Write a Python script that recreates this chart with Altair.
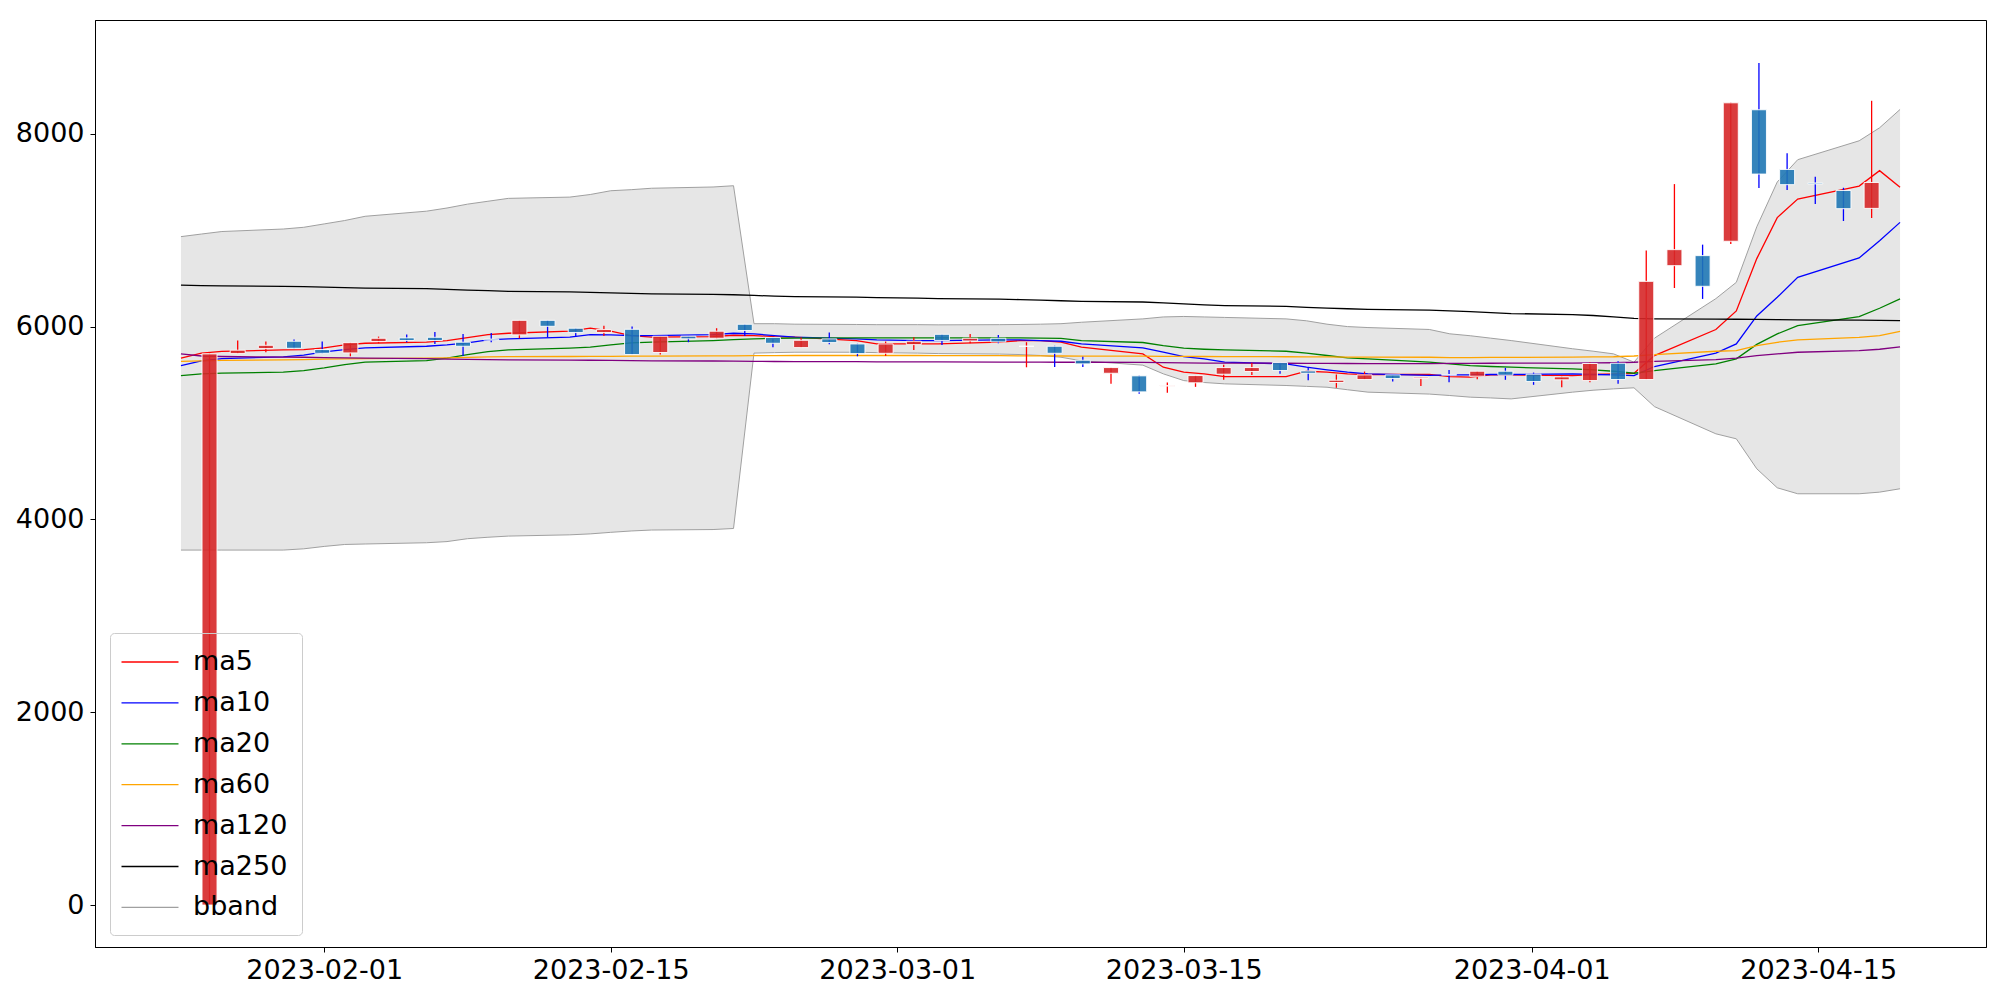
import altair as alt
import pandas as pd

dates = ["2023-01-25", "2023-01-26", "2023-01-27", "2023-01-30", "2023-01-31",
         "2023-02-01", "2023-02-02", "2023-02-03", "2023-02-06", "2023-02-07",
         "2023-02-08", "2023-02-09", "2023-02-10", "2023-02-13", "2023-02-14",
         "2023-02-15", "2023-02-16", "2023-02-17", "2023-02-20", "2023-02-21",
         "2023-02-22", "2023-02-23", "2023-02-24", "2023-02-27", "2023-02-28",
         "2023-03-02", "2023-03-03", "2023-03-06", "2023-03-07", "2023-03-08",
         "2023-03-09", "2023-03-10", "2023-03-13", "2023-03-14", "2023-03-15",
         "2023-03-16", "2023-03-17", "2023-03-20", "2023-03-21", "2023-03-22",
         "2023-03-23", "2023-03-24", "2023-03-27", "2023-03-28", "2023-03-29",
         "2023-03-30", "2023-03-31", "2023-04-03", "2023-04-04", "2023-04-05",
         "2023-04-06", "2023-04-07", "2023-04-10", "2023-04-11", "2023-04-12",
         "2023-04-13", "2023-04-14", "2023-04-17", "2023-04-18", "2023-04-19"]

opens = [0, 5720, 5772, 5848, 5762, 5727, 5845, 5883, 5889, 5838,
         5870, 5914, 6065, 5983, 5938, 5972, 5731, 5900, 5879, 6024,
         5886, 5782, 5872, 5820, 5723, 5813, 5920, 5851, 5879, 5796,
         5796, 5651, 5516, 5489, 5383, 5417, 5506, 5534, 5627, 5540,
         5420, 5451, 5499, 5461, 5502, 5485, 5537, 5506, 5448, 5440,
         5620, 5451, 6632, 6736, 6885, 8249, 7630, 7490, 7412, 7226]
highs = [5720, 5855, 5845, 5865, 5845, 5838, 5896, 5917, 5945, 5924,
         5934, 6068, 6068, 5985, 6010, 6000, 5903, 5903, 5983, 6027,
         5890, 5886, 5938, 5824, 5845, 5889, 5924, 5924, 5914, 5838,
         5800, 5686, 5578, 5492, 5420, 5495, 5603, 5624, 5630, 5582,
         5503, 5534, 5503, 5478, 5551, 5540, 5572, 5523, 5482, 5627,
         5641, 6788, 7478, 6850, 8325, 8733, 7799, 7554, 7440, 8342]
lows = [0, 5715, 5735, 5772, 5720, 5692, 5827, 5837, 5820, 5696,
        5838, 5879, 5889, 5900, 5903, 5710, 5710, 5838, 5876, 5903,
        5786, 5780, 5817, 5692, 5696, 5758, 5810, 5827, 5827, 5578,
        5582, 5582, 5406, 5303, 5313, 5375, 5448, 5499, 5510, 5444,
        5365, 5448, 5430, 5385, 5423, 5454, 5448, 5396, 5371, 5423,
        5406, 5448, 6400, 6287, 6857, 7437, 7417, 7271, 7095, 7126]
closes = [5717, 5755, 5806, 5775, 5723, 5834, 5879, 5855, 5855, 5796,
          5860, 6065, 6003, 5938, 5969, 5710, 5900, 5873, 5952, 5959,
          5827, 5858, 5834, 5720, 5820, 5848, 5855, 5879, 5841, 5796,
          5723, 5613, 5575, 5323, 5388, 5492, 5575, 5575, 5544, 5516,
          5444, 5499, 5461, 5475, 5497, 5537, 5496, 5430, 5478, 5617,
          5451, 6469, 6798, 6418, 8321, 7582, 7472, 7480, 7223, 7495]

ma5 = [5672, 5725, 5742, 5759, 5762, 5779, 5810, 5827, 5838, 5855,
       5885, 5917, 5931, 5952, 5983, 5952, 5907, 5890, 5896, 5910,
       5907, 5896, 5890, 5855, 5820, 5820, 5820, 5838, 5855, 5855,
       5838, 5786, 5717, 5579, 5527, 5510, 5482, 5482, 5537, 5527,
       5510, 5503, 5505, 5482, 5475, 5499, 5499, 5492, 5503, 5509,
       5516, 5699, 5970, 6162, 6705, 7130, 7323, 7458, 7617, 7444]
ma10 = [5596, 5644, 5668, 5686, 5703, 5737, 5762, 5779, 5796, 5810,
        5831, 5862, 5872, 5890, 5917, 5914, 5907, 5907, 5917, 5931,
        5924, 5907, 5890, 5872, 5862, 5855, 5855, 5862, 5862, 5855,
        5848, 5820, 5779, 5734, 5689, 5665, 5631, 5613, 5579, 5551,
        5527, 5510, 5495, 5499, 5499, 5503, 5503, 5509, 5503, 5499,
        5492, 5586, 5725, 5820, 6110, 6304, 6511, 6712, 6891, 7081]
ma20 = [5492, 5510, 5517, 5527, 5544, 5572, 5606, 5631, 5648, 5672,
        5710, 5741, 5758, 5776, 5786, 5810, 5831, 5838, 5855, 5865,
        5872, 5879, 5880, 5882, 5882, 5882, 5882, 5882, 5882, 5880,
        5878, 5855, 5835, 5803, 5776, 5765, 5758, 5744, 5724, 5700,
        5675, 5665, 5631, 5613, 5596, 5586, 5579, 5561, 5551, 5537,
        5516, 5544, 5613, 5665, 5815, 5924, 6010, 6104, 6190, 6287]
ma60 = [5640, 5645, 5650, 5655, 5658, 5662, 5665, 5668, 5672, 5676,
        5680, 5685, 5688, 5690, 5691, 5692, 5693, 5694, 5696, 5697,
        5698, 5699, 5700, 5700, 5700, 5700, 5699, 5698, 5697, 5696,
        5695, 5694, 5693, 5692, 5691, 5690, 5689, 5687, 5686, 5685,
        5684, 5683, 5682, 5678, 5679, 5680, 5681, 5683, 5685, 5687,
        5695, 5710, 5744, 5751, 5803, 5837, 5862, 5889, 5907, 5951]
ma120 = [5717, 5695, 5690, 5684, 5682, 5678, 5675, 5672, 5667, 5663,
         5660, 5657, 5655, 5653, 5651, 5649, 5647, 5645, 5643, 5641,
         5639, 5638, 5637, 5636, 5635, 5634, 5633, 5632, 5632, 5631,
         5630, 5630, 5628, 5626, 5624, 5622, 5621, 5620, 5619, 5618,
         5617, 5616, 5615, 5618, 5619, 5620, 5621, 5622, 5623, 5625,
         5630, 5640, 5658, 5672, 5699, 5717, 5734, 5751, 5765, 5790]
ma250 = [6430, 6425, 6422, 6418, 6415, 6410, 6405, 6400, 6393, 6386,
         6378, 6372, 6366, 6360, 6355, 6350, 6345, 6340, 6335, 6330,
         6323, 6316, 6310, 6305, 6300, 6295, 6290, 6285, 6280, 6275,
         6268, 6262, 6255, 6245, 6235, 6225, 6218, 6210, 6200, 6192,
         6185, 6178, 6170, 6162, 6155, 6145, 6135, 6125, 6115, 6100,
         6085, 6080, 6078, 6076, 6074, 6072, 6070, 6067, 6065, 6062]
bb_upper = [6933, 6960, 6986, 7012, 7030, 7065, 7100, 7144, 7197, 7230,
            7270, 7300, 7330, 7343, 7370, 7409, 7420, 7435, 7448, 7461,
            6030, 6030, 6025, 6022, 6020, 6020, 6018, 6020, 6022, 6025,
            6030, 6045, 6080, 6100, 6105, 6100, 6095, 6080, 6060, 6025,
            6000, 5990, 5970, 5925, 5905, 5880, 5855, 5770, 5745, 5717,
            5631, 5880, 6290, 6459, 7035, 7500, 7731, 7927, 8062, 8252]
bb_lower = [3682, 3682, 3682, 3682, 3695, 3720, 3740, 3745, 3758, 3770,
            3800, 3815, 3827, 3840, 3850, 3866, 3880, 3890, 3895, 3906,
            5725, 5730, 5734, 5734, 5730, 5725, 5720, 5715, 5710, 5700,
            5682, 5645, 5600, 5510, 5440, 5420, 5406, 5389, 5380, 5371,
            5345, 5320, 5300, 5285, 5268, 5260, 5250, 5320, 5340, 5354,
            5365, 5170, 4888, 4836, 4525, 4328, 4266, 4266, 4283, 4318]

series_names = ["ma5", "ma10", "ma20", "ma60", "ma120", "ma250", "bband"]
series_colors = ["#ff0000", "#0000ff", "#008000", "#ffa500", "#800080", "#000000", "#a0a0a0"]
tick_dates = [(2, 1), (2, 15), (3, 1), (3, 15), (4, 1), (4, 15)]
y_ticks = [0, 2000, 4000, 6000, 8000]

df = pd.DataFrame({
    "date": [d + "T00:00:00Z" for d in dates],
    "idx": list(range(len(dates))),
    "open": opens, "high": highs, "low": lows, "close": closes,
    "ma5": ma5, "ma10": ma10, "ma20": ma20, "ma60": ma60,
    "ma120": ma120, "ma250": ma250,
    "bb_upper": bb_upper, "bb_lower": bb_lower,
})

FONT = "DejaVu Sans"
FS = 27

date_scale = alt.Scale(
    type="utc", nice=False,
    domain=[alt.DateTime(year=2023, month=1, date=20, hours=19, minutes=12, utc=True),
            alt.DateTime(year=2023, month=4, date=23, hours=4, minutes=48, utc=True)])
date_axis = alt.Axis(
    values=[alt.DateTime(year=2023, month=m, date=d, utc=True) for m, d in tick_dates],
    labelExpr="utcFormat(datum.value, '%Y-%m-%d')", title=None, grid=False,
    labelPadding=5)
x_date = alt.X("date:T", scale=date_scale, axis=date_axis)

y_scale = alt.Scale(domain=[-435, 9180], nice=False, zero=False)
y_axis = alt.Axis(values=y_ticks, format="d", title=None, grid=False, labelPadding=6)

idx_scale = alt.Scale(domain=[-4.065, 63.06], nice=False, zero=False, padding=0)
x_idx = alt.X("idx:Q", scale=idx_scale, axis=None)

band = alt.Chart(df).mark_area(color="#808080", opacity=0.2).encode(
    x=x_date,
    y=alt.Y("bb_lower:Q", scale=y_scale, axis=y_axis),
    y2="bb_upper:Q",
)
band_up = alt.Chart(df).mark_line(color="#a0a0a0", strokeWidth=1).encode(
    x=x_date, y=alt.Y("bb_upper:Q", scale=y_scale, axis=y_axis))
band_low = alt.Chart(df).mark_line(color="#a0a0a0", strokeWidth=1).encode(
    x=x_date, y=alt.Y("bb_lower:Q", scale=y_scale, axis=y_axis))

legend = alt.Legend(
    title=None, orient="none", legendX=15, legendY=613,
    symbolType="M-2,0H2", symbolSize=812, symbolStrokeWidth=1.3,
    symbolOffset=11,
    labelFont=FONT, labelFontSize=FS, labelColor="black", labelOffset=28,
    strokeColor="#cccccc", cornerRadius=4,
    padding=14, rowPadding=12.9,
)

ma_lines = alt.Chart(df).transform_fold(
    series_names[:6], as_=["series", "value"]
).mark_line(strokeWidth=1.3).encode(
    x=x_date,
    y=alt.Y("value:Q", scale=y_scale, axis=y_axis),
    color=alt.Color("series:N",
                    scale=alt.Scale(domain=series_names, range=series_colors),
                    legend=legend),
)

up_cond = "datum.close >= datum.open"
wicks = alt.Chart(df).mark_rule(strokeWidth=1.3).encode(
    x=x_idx,
    y=alt.Y("low:Q", scale=y_scale, axis=y_axis),
    y2="high:Q",
    color=alt.condition(up_cond, alt.value("#ff0000"), alt.value("#0000ff")),
)
bodies = alt.Chart(df).mark_bar(size=15, stroke="white", strokeWidth=1,
                                fillOpacity=0.9, strokeOpacity=0.9).encode(
    x=x_idx,
    y=alt.Y("open:Q", scale=y_scale, axis=y_axis),
    y2="close:Q",
    fill=alt.condition(up_cond, alt.value("#d62728"), alt.value("#1f77b4")),
)

date_layer = alt.layer(band, band_up, band_low, ma_lines)
candle_layer = alt.layer(wicks, bodies)

chart = alt.layer(date_layer, candle_layer).resolve_scale(
    x="independent"
).properties(
    width=1891, height=927,
    autosize=alt.AutoSizeParams(type="none"),
    padding={"left": 87, "top": 12, "right": 6, "bottom": 45},
).configure_view(
    stroke="black", strokeWidth=1
).configure_axis(
    labelFont=FONT, labelFontSize=FS, labelColor="black",
    tickColor="black", domainColor="black", tickSize=5, tickWidth=1,
    domainWidth=1,
)

chart.save("out.html", embed_options={"renderer": "svg", "actions": False})
